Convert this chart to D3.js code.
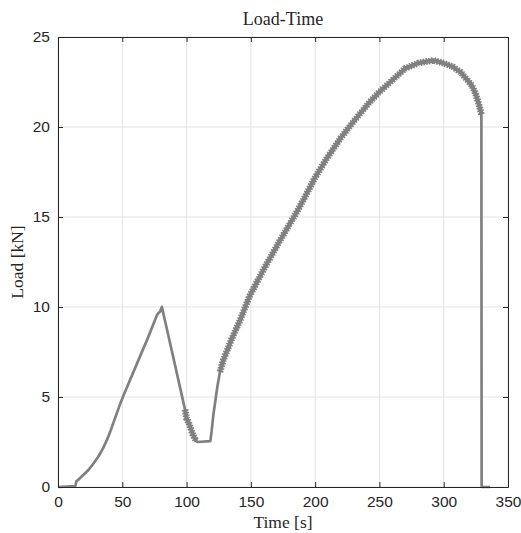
<!DOCTYPE html>
<html>
<head>
<meta charset="utf-8">
<script src="https://cdn.jsdelivr.net/npm/d3@7"></script>
<style>
  body { margin: 0; background: #fff; }
  svg { display: block; }
</style>
</head>
<body>
<div id="chart"></div>
<script>
// time [s] and load [kN]
var time = [0, 13.5, 14.2, 16, 18, 20.5, 23.6, 27, 31.3, 35, 38, 40.5, 43, 45.5, 48, 51, 62, 70, 77, 78, 79.5, 80.8,
	90, 98.8, 100, 101.5, 103, 105, 107.5, 108.5, 118.5, 119.5, 121, 124, 126, 128.6, 135, 141.5,
	149, 160, 172.7, 184.3, 192, 200, 209, 220, 227, 235, 242, 250, 260, 270, 280, 292,
	300, 307, 313, 318, 322, 325, 328, 329.3, 329.5, 336];
var load = [0, 0.05, 0.3, 0.42, 0.55, 0.72, 0.94, 1.25, 1.68, 2.15, 2.6, 3.05, 3.55, 4.05, 4.55, 5.1, 6.95, 8.3, 9.55, 9.65, 9.75, 10.0,
	7.1, 4.3, 3.8, 3.6, 3.3, 2.9, 2.55, 2.5, 2.55, 3.1, 4.1, 5.6, 6.4, 7.06, 8.2, 9.25,
	10.6, 12.1, 13.7, 15.1, 16.1, 17.2, 18.25, 19.4, 20.05, 20.75, 21.35, 21.95, 22.6, 23.25, 23.55, 23.7,
	23.55, 23.35, 23.05, 22.65, 22.3, 21.8, 21.1, 20.7, 0, 0];
// stretches where the load cycles (drawn as a serrated band)
var cyclic = [[98.5, 108], [126, 329.3]];

var xTicks = [0, 50, 100, 150, 200, 250, 300, 350];
var yTicks = [0, 5, 10, 15, 20, 25];

var width = 521, height = 533;
var margin = {top: 37, right: 13, bottom: 46, left: 58};
var w = width - margin.left - margin.right;
var h = height - margin.top - margin.bottom;

var svg = d3.select("#chart").append("svg")
	.attr("width", width)
	.attr("height", height);

var x = d3.scaleLinear().domain([0, 350]).range([0, w]);
var y = d3.scaleLinear().domain([0, 25]).range([h, 0]);

var g = svg.append("g").attr("transform", "translate(" + margin.left + "," + margin.top + ")");

// grid
g.selectAll(".vgrid").data(xTicks).enter().append("line")
	.attr("x1", function (d) { return x(d); })
	.attr("x2", function (d) { return x(d); })
	.attr("y1", 0).attr("y2", h)
	.style("stroke", "#e3e3e3").style("stroke-width", 1);
g.selectAll(".hgrid").data(yTicks).enter().append("line")
	.attr("x1", 0).attr("x2", w)
	.attr("y1", function (d) { return y(d); })
	.attr("y2", function (d) { return y(d); })
	.style("stroke", "#e3e3e3").style("stroke-width", 1);

var pts = time.map(function (t, i) { return [t, load[i]]; });
var line = d3.line()
	.x(function (d) { return x(d[0]); })
	.y(function (d) { return y(d[1]); });

g.append("path")
	.datum(pts)
	.attr("d", line)
	.attr("fill", "none")
	.style("stroke", "#808080")
	.style("stroke-width", 2.7)
	.style("stroke-linejoin", "round");

cyclic.forEach(function (r) {
	var seg = pts.filter(function (p) { return p[0] >= r[0] && p[0] <= r[1]; });
	g.append("path")
		.datum(seg)
		.attr("d", line)
		.attr("fill", "none")
		.style("stroke", "#808080")
		.style("stroke-width", 4.2)
		.style("stroke-linejoin", "round");
	g.append("path")
		.datum(seg)
		.attr("d", line)
		.attr("fill", "none")
		.style("stroke", "#808080")
		.style("stroke-width", 6.8)
		.style("stroke-dasharray", "1.6,1.2");
});

// axes with inward ticks, box
var font = "'Liberation Sans', Arial, sans-serif";
var axB = g.append("g").attr("transform", "translate(0," + h + ")")
	.call(d3.axisBottom(x).tickValues(xTicks).tickSizeInner(-5).tickSizeOuter(0).tickPadding(9));
var axL = g.append("g")
	.call(d3.axisLeft(y).tickValues(yTicks).tickSizeInner(-5).tickSizeOuter(0).tickPadding(8));
var axT = g.append("g")
	.call(d3.axisTop(x).tickValues(xTicks).tickSizeInner(-5).tickSizeOuter(0).tickFormat(""));
var axR = g.append("g").attr("transform", "translate(" + w + ",0)")
	.call(d3.axisRight(y).tickValues(yTicks).tickSizeInner(-5).tickSizeOuter(0).tickFormat(""));
[axB, axL, axT, axR].forEach(function (a) {
	a.selectAll("path, line").style("stroke", "#262626");
	a.selectAll("text").style("font-family", font).style("font-size", "15.5px").style("fill", "#262626");
});

var serif = "'Liberation Serif', 'DejaVu Serif', serif";
svg.append("text")
	.attr("x", margin.left + w / 2).attr("y", 25)
	.attr("text-anchor", "middle")
	.style("font-family", serif).style("font-size", "18px").style("fill", "#262626")
	.text("Load-Time");
svg.append("text")
	.attr("x", margin.left + w / 2).attr("y", 528)
	.attr("text-anchor", "middle")
	.style("font-family", serif).style("font-size", "17.5px").style("fill", "#262626")
	.text("Time [s]");
svg.append("text")
	.attr("transform", "translate(23," + (margin.top + h / 2) + ") rotate(-90)")
	.attr("text-anchor", "middle")
	.style("font-family", serif).style("font-size", "17.5px").style("fill", "#262626")
	.text("Load [kN]");
</script>
</body>
</html>
